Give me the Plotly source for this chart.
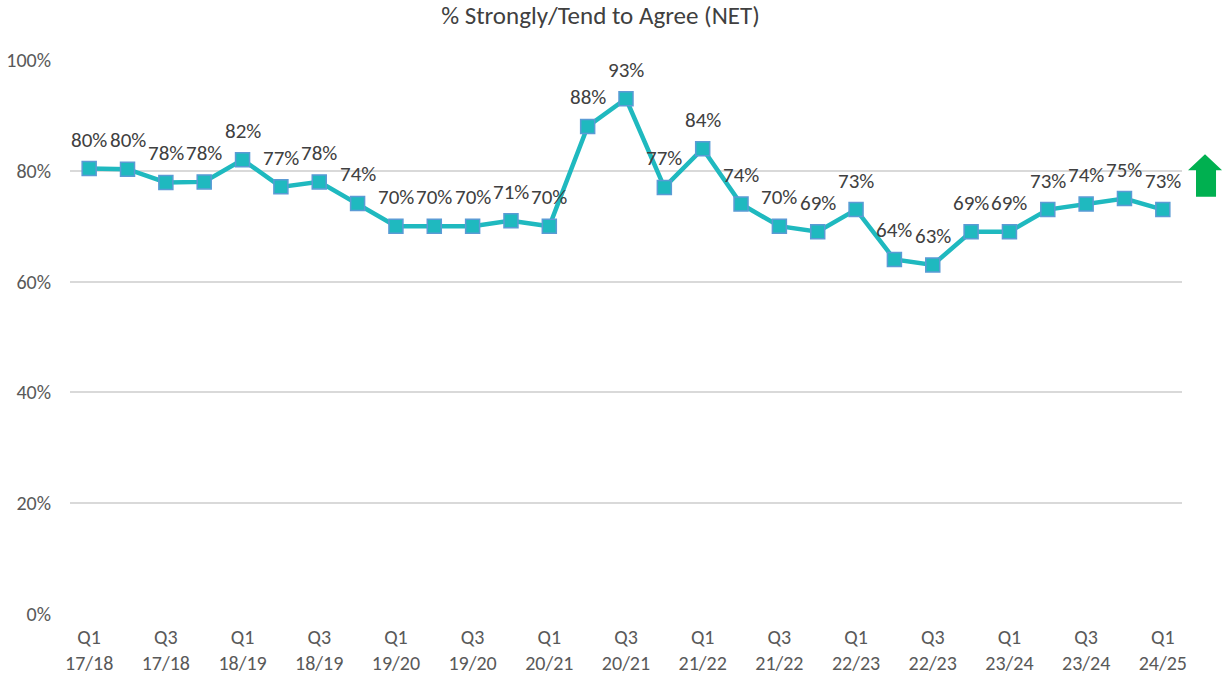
import plotly.graph_objects as go

quarters = ["Q1 17/18", "Q2 17/18", "Q3 17/18", "Q4 17/18",
            "Q1 18/19", "Q2 18/19", "Q3 18/19", "Q4 18/19",
            "Q1 19/20", "Q2 19/20", "Q3 19/20", "Q4 19/20",
            "Q1 20/21", "Q2 20/21", "Q3 20/21", "Q4 20/21",
            "Q1 21/22", "Q2 21/22", "Q3 21/22", "Q4 21/22",
            "Q1 22/23", "Q2 22/23", "Q3 22/23", "Q4 22/23",
            "Q1 23/24", "Q2 23/24", "Q3 23/24", "Q4 23/24",
            "Q1 24/25"]
values = [80.4, 80.3, 77.9, 78.0, 82.0, 77.1, 78.0, 74.1,
          70, 70, 70, 71, 70, 88, 93, 77,
          84, 74, 70, 69, 73, 64, 63, 69,
          69, 73, 74, 75, 73]
tick_vals = quarters[::2]
tick_text = [q.replace(" ", "<br>") for q in tick_vals]

FONT = "Calibri, Carlito, Lato, sans-serif"

fig = go.Figure()
fig.add_trace(go.Scatter(
    x=quarters, y=values, mode="lines+markers",
    line=dict(color="#1FB9BF", width=4.5),
    marker=dict(symbol="square", size=14, color="#1FB9BF",
                line=dict(color="#5B9BD5", width=1.5)),
    cliponaxis=False, hoverinfo="skip",
))

for q, v in zip(quarters, values):
    fig.add_annotation(x=q, y=v, text=f"{v:.0f}%", showarrow=False,
                       yshift=29, font=dict(size=21, color="#404040", family=FONT))

fig.update_layout(
    width=1223, height=680,
    paper_bgcolor="white", plot_bgcolor="white",
    margin=dict(l=70, r=41, t=60, b=66, autoexpand=False),
    showlegend=False,
    font=dict(family=FONT, color="#595959", size=20),
    title=dict(text="% Strongly/Tend to Agree (NET)", x=0.491, xanchor="center",
               y=0.978, yanchor="middle", font=dict(size=25, color="#404040")),
)
fig.update_xaxes(type="category", range=[-0.5, len(quarters) - 0.5],
                 tickvals=tick_vals, ticktext=tick_text, showgrid=False,
                 showline=False, ticks="", ticklabelstandoff=9,
                 tickfont=dict(size=20, color="#595959"))
fig.update_yaxes(range=[0, 100], dtick=20, ticksuffix="%", showgrid=True,
                 gridcolor="#D9D9D9", gridwidth=1.5, zeroline=False,
                 ticklabelstandoff=18,
                 tickfont=dict(size=20, color="#595959"), ticks="")

# green up arrow to the right of the plot
fig.add_shape(type="path", xref="paper", yref="paper",
              path="M 1.0126 0.753 L 1.0126 0.801 L 1.0054 0.801 L 1.0207 0.830 "
                   "L 1.0360 0.801 L 1.0306 0.801 L 1.0306 0.753 Z",
              fillcolor="#00B050", line=dict(width=0))

fig.write_html("out.html", config={"displayModeBar": False},
               post_script="document.body.style.margin='0';")
